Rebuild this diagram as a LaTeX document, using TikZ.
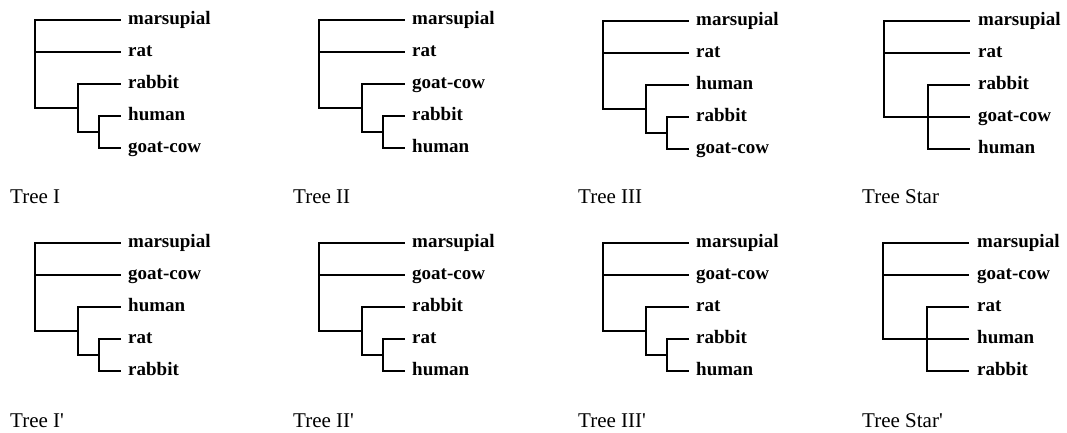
\documentclass[tikz,border=0pt]{standalone}
\usepackage{fontspec}
\setmainfont{Liberation Serif}
\usetikzlibrary{calc}
\tikzset{
  branch/.style={line width=2.6pt, line cap=rect, line join=miter},
  leaf/.style={anchor=base west, inner sep=0pt, font=\fontsize{19}{21}\selectfont\bfseries},
  caption/.style={anchor=base west, inner sep=0pt, font=\fontsize{21}{23}\selectfont}
}
% binary tree: name, x, y, five leaves (last two are the sister pair)
\newcommand{\bintree}[8]{%
  \foreach \i/\t in {1/#4,2/#5,3/#6,4/#7,5/#8}{%
    \coordinate (#1t\i) at ($(#2,#3)+(85,{32*(\i-1)})$);
    \node[leaf] (#1l\i) at ($(#2,#3)+(93,{32*(\i-1)+4.5})$) {\t};
  }
  \coordinate (#1r) at ($(#2,#3)+(0,88)$);
  \coordinate (#1s) at ($(#2,#3)+(43,112)$);
  \coordinate (#1u) at ($(#2,#3)+(64,128)$);
  \draw[branch] (#1t1) -| (#1r) -- (#1r -| #1s);
  \draw[branch] (#1t2) -- (#1t2 -| #1r);
  \draw[branch] (#1t3) -| (#1s) -| (#1u) -- (#1t5);
  \draw[branch] (#1t4) -| (#1u);
}
% star tree
\newcommand{\startree}[8]{%
  \foreach \i/\t in {1/#4,2/#5,3/#6,4/#7,5/#8}{%
    \coordinate (#1t\i) at ($(#2,#3)+(85,{32*(\i-1)})$);
    \node[leaf] (#1l\i) at ($(#2,#3)+(94,{32*(\i-1)+4.5})$) {\t};
  }
  \coordinate (#1r) at ($(#2,#3)+(0,96)$);
  \coordinate (#1s) at ($(#2,#3)+(44,128)$);
  \draw[branch] (#1t1) -| (#1r) -- (#1t4);
  \draw[branch] (#1t2) -- (#1t2 -| #1r);
  \draw[branch] (#1t3) -| (#1s) -- (#1t5);
}
\begin{document}
\begin{tikzpicture}[x=1pt,y=-1pt]
\useasboundingbox (0,0) rectangle (1067,432);
\fill[white] (0,0) rectangle (1067,432);
% top row
\bintree{a}{35}{20}{marsupial}{rat}{rabbit}{human}{goat-cow}
\bintree{b}{319}{20}{marsupial}{rat}{goat-cow}{rabbit}{human}
\bintree{c}{603}{21}{marsupial}{rat}{human}{rabbit}{goat-cow}
\startree{d}{884}{21}{marsupial}{rat}{rabbit}{goat-cow}{human}
\node[caption] (ca) at (10,203) {Tree I};
\node[caption] (cb) at (293,203) {Tree II};
\node[caption] (cc) at (578,203) {Tree III};
\node[caption] (cd) at (862,203) {Tree Star};
% bottom row
\bintree{e}{35}{243}{marsupial}{goat-cow}{human}{rat}{rabbit}
\bintree{f}{319}{243}{marsupial}{goat-cow}{rabbit}{rat}{human}
\bintree{g}{603}{243}{marsupial}{goat-cow}{rat}{rabbit}{human}
\startree{h}{883}{243}{marsupial}{goat-cow}{rat}{human}{rabbit}
\node[caption] (ce) at (10,427) {Tree I\textquotesingle};
\node[caption] (cf) at (293,427) {Tree II\textquotesingle};
\node[caption] (cg) at (578,427) {Tree III\textquotesingle};
\node[caption] (ch) at (862,427) {Tree Star\textquotesingle};
\end{tikzpicture}
\end{document}
